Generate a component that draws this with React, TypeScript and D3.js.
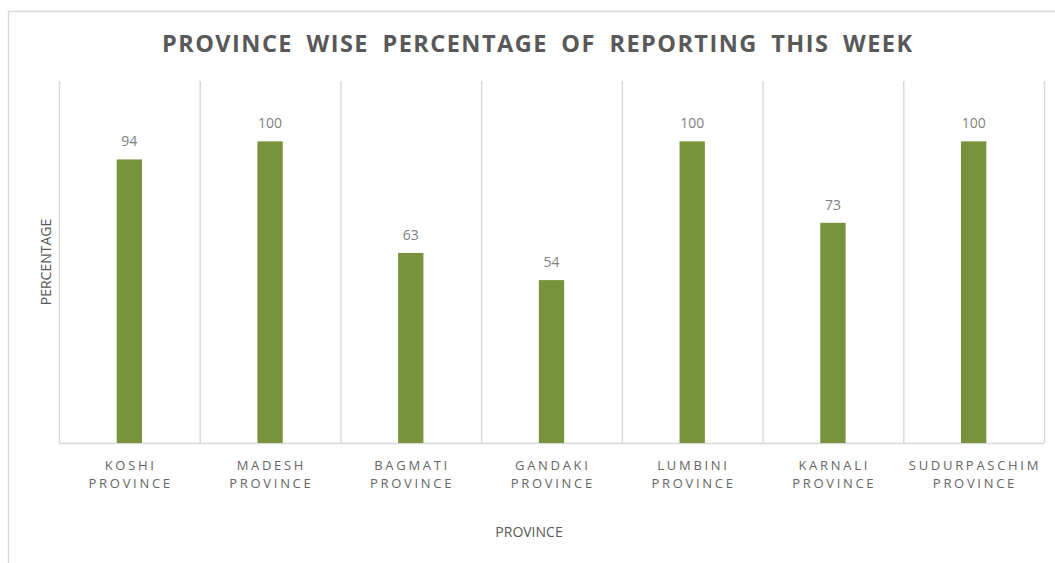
import React from 'react';
import * as d3 from 'd3';

const provinces = ['KOSHI', 'MADESH', 'BAGMATI', 'GANDAKI', 'LUMBINI', 'KARNALI', 'SUDURPASCHIM'];
const reporting = [94, 100, 63, 54, 100, 73, 100];
const yDomain = [0, 120];

const chartTitle = 'PROVINCE WISE PERCENTAGE OF REPORTING THIS WEEK';
const xTitle = 'PROVINCE';
const yTitle = 'PERCENTAGE';

const App = () => {
  const svgWidth = 1055;
  const svgHeight = 563;
  const margin = { left: 59, right: 11, top: 81, bottom: 120 };
  const width = svgWidth - margin.left - margin.right;
  const height = svgHeight - margin.top - margin.bottom;

  const font = '"Open Sans", sans-serif';
  const gridColor = '#d9d9d9';
  const barColor = '#77933c';

  const x = d3.scaleBand()
    .domain(provinces)
    .range([0, width])
    .paddingInner(0)
    .paddingOuter(0);

  const y = d3.scaleLinear()
    .domain(yDomain)
    .range([height, 0]);

  const step = x.step();
  const barWidth = step * 0.18;
  const cx = (p: string) => (x(p) as number) + step / 2;

  return (
    <svg width={svgWidth} height={svgHeight} style={{ position: 'absolute', left: 0, top: 0 }}>
      <rect x={0} y={0} width={svgWidth} height={svgHeight} fill="#fff" />
      {/* chart frame */}
      <rect x={8.5} y={11.5} width={svgWidth + 20} height={svgHeight + 20} fill="none" stroke={gridColor} strokeWidth={1.5} />

      <text
        x={537} y={52} textAnchor="middle" fontFamily={font} fontSize={23.5} fontWeight="bold" fill="#595959"
        wordSpacing={6} textLength={750} lengthAdjust="spacing"
      >{chartTitle}</text>

      <g transform={`translate(${margin.left},${margin.top})`}>
        {/* vertical gridlines at category boundaries */}
        {provinces.map(p => (
          <line key={p} x1={(x(p) as number) + 0.5} x2={(x(p) as number) + 0.5} y1={0} y2={height} stroke={gridColor} strokeWidth={1.5} />
        ))}
        <line x1={width + 0.5} x2={width + 0.5} y1={0} y2={height} stroke={gridColor} strokeWidth={1.5} />
        <line x1={0} x2={width} y1={height + 0.5} y2={height + 0.5} stroke={gridColor} strokeWidth={1.5} />

        {reporting.map((v, i) => (
          <rect key={i} x={cx(provinces[i]) - barWidth / 2} y={y(v)} width={barWidth} height={height - y(v)} fill={barColor} />
        ))}

        {reporting.map((v, i) => (
          <text key={'l' + i} x={cx(provinces[i])} y={y(v) - 13} textAnchor="middle" fontFamily={font} fontSize={14} fill="#808080">{v}</text>
        ))}

        {provinces.map(p => (
          <text key={'t' + p} textAnchor="middle" fontFamily={font} fontSize={13} fill="#666666" letterSpacing={2.7}>
            <tspan x={cx(p) + 1.3} y={height + 27}>{p}</tspan>
            <tspan x={cx(p) + 1.3} y={height + 45}>PROVINCE</tspan>
          </text>
        ))}
      </g>

      <text x={529} y={537} textAnchor="middle" fontFamily={font} fontSize={14} fill="#595959">{xTitle}</text>
      <text transform="translate(51,262) rotate(-90)" textAnchor="middle" fontFamily={font} fontSize={14} fill="#595959">{yTitle}</text>
    </svg>
  );
};

export default App;
